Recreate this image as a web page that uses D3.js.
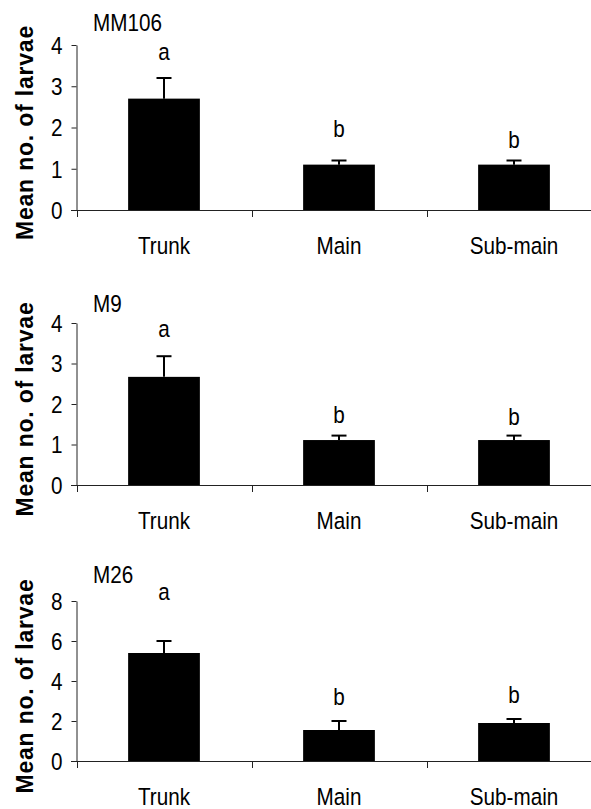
<!DOCTYPE html>
<html>
<head>
<meta charset="utf-8">
<script src="https://cdn.jsdelivr.net/npm/d3@7"></script>
<style>
  html, body { margin: 0; padding: 0; background: #fff; }
  svg { display: block; }
  text { font-family: "Liberation Sans", Arial, sans-serif; fill: #000; }
</style>
</head>
<body>
<svg id="chart" width="591" height="809"></svg>
<script>
// ---- data ----
const categories = ["Trunk", "Main", "Sub-main"];
const panelNames = ["MM106", "M9", "M26"];
const meansMM106 = [2.7, 1.1, 1.1];
const seMM106 = [0.5, 0.1, 0.1];
const meansM9 = [2.67, 1.11, 1.11];
const seM9 = [0.51, 0.11, 0.11];
const meansM26 = [5.4, 1.55, 1.9];
const seM26 = [0.6, 0.45, 0.2];
const lettersAll = ["a", "b", "b"];
const letterAtMM106 = [3.64, 1.77, 1.5];
const letterAtM9 = [3.66, 1.53, 1.49];
const letterAtM26 = [8.05, 2.8, 2.9];
const yMaxes = [4, 4, 8];
const yTicksMM106 = [0, 1, 2, 3, 4];
const yTicksM9 = [0, 1, 2, 3, 4];
const yTicksM26 = [0, 2, 4, 6, 8];
const yLabel = "Mean no. of larvae";

const panels = [
  { name: panelNames[0], means: meansMM106, se: seMM106, letterAt: letterAtMM106, yMax: yMaxes[0], ticks: yTicksMM106 },
  { name: panelNames[1], means: meansM9, se: seM9, letterAt: letterAtM9, yMax: yMaxes[1], ticks: yTicksM9 },
  { name: panelNames[2], means: meansM26, se: seM26, letterAt: letterAtM26, yMax: yMaxes[2], ticks: yTicksM26 }
];

// ---- layout ----
const layout = [
  { y0: 210, yTop: 45, titleY: 31 },
  { y0: 485, yTop: 323, titleY: 312 },
  { y0: 761, yTop: 601, titleY: 583 }
];
const axisX = 76.5;
const FS = 23.5;
const SX = 0.88;

const svg = d3.select("#chart");

const x = d3.scaleBand().domain(categories).range([axisX, axisX + 525])
  .paddingInner(0.59).paddingOuter(0.295);

function addText(g, str, px, py, anchor, opts = {}) {
  return g.append("text")
    .attr("transform", `translate(${px},${py}) scale(${opts.sx ?? SX},1)`)
    .attr("text-anchor", anchor)
    .style("font-size", (opts.fs ?? FS) + "px")
    .text(str);
}

panels.forEach((p, i) => {
  const L = layout[i];
  const g = svg.append("g");
  const y = d3.scaleLinear().domain([0, p.yMax]).range([L.y0, L.yTop]);

  // bars
  g.selectAll("rect.bar").data(categories).enter().append("rect")
    .attr("x", d => x(d))
    .attr("width", x.bandwidth())
    .attr("y", (d, j) => y(p.means[j]))
    .attr("height", (d, j) => y(0) - y(p.means[j]))
    .attr("fill", "#000");

  // error bars (upper)
  categories.forEach((c, j) => {
    const cx = x(c) + x.bandwidth() / 2;
    const top = y(p.means[j] + p.se[j]);
    g.append("line").attr("x1", cx).attr("x2", cx)
      .attr("y1", y(p.means[j])).attr("y2", top)
      .attr("stroke", "#000").attr("stroke-width", 2);
    g.append("line").attr("x1", cx - 7.5).attr("x2", cx + 7.5)
      .attr("y1", top).attr("y2", top)
      .attr("stroke", "#000").attr("stroke-width", 2);
    addText(g, lettersAll[j], cx, y(p.letterAt[j]), "middle");
  });

  // y axis
  const ya = g.append("g").attr("transform", `translate(${axisX},0)`)
    .call(d3.axisLeft(y).tickValues(p.ticks).tickSize(5).tickSizeOuter(0).tickFormat(d3.format("d")));
  ya.select(".domain").attr("stroke", "#222");
  ya.selectAll(".tick line").attr("stroke", "#222");
  ya.selectAll(".tick text")
    .attr("x", null).attr("dy", null)
    .attr("transform", `translate(-14,8.3) scale(${SX},1)`)
    .attr("text-anchor", "end")
    .attr("fill", "#000")
    .style("font-size", FS + "px")
    .style("font-family", '"Liberation Sans", Arial, sans-serif');

  // x axis
  const xa = g.append("g").attr("transform", `translate(0,${L.y0})`)
    .call(d3.axisBottom(x).tickSize(0).tickPadding(0));
  xa.select(".domain").attr("d", `M${axisX - 5.5},0.5H591`).attr("stroke", "#222");
  xa.selectAll(".tick text")
    .attr("y", null).attr("dy", null)
    .attr("transform", `translate(0,44) scale(${SX},1)`)
    .attr("fill", "#000")
    .style("font-size", FS + "px")
    .style("font-family", '"Liberation Sans", Arial, sans-serif');
  // category boundary ticks
  const gap = x.step() * x.paddingInner() / 2;
  const bounds = categories.map(c => x(c) - gap).concat([x(categories[2]) + x.bandwidth() + gap]);
  xa.selectAll("line.bt").data(bounds).enter().append("line")
    .attr("x1", d => Math.round(d) + 0.5).attr("x2", d => Math.round(d) + 0.5)
    .attr("y1", 0).attr("y2", 7)
    .attr("stroke", "#222");

  // panel title
  addText(g, p.name, 93, L.titleY, "start");

  // y label
  const cy = (L.y0 + L.yTop) / 2 + 5;
  g.append("text")
    .attr("transform", `translate(33,${cy}) rotate(-90)`)
    .attr("text-anchor", "middle")
    .style("font-size", "23px")
    .style("font-weight", "bold")
    .style("letter-spacing", "0.8px")
    .text(yLabel);
});
</script>
</body>
</html>
